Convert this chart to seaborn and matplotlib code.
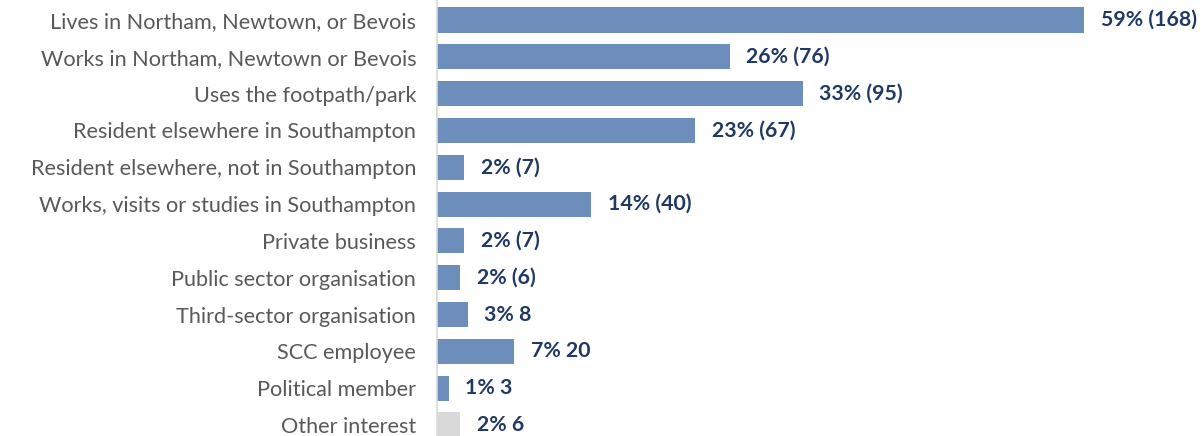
import matplotlib
matplotlib.use("Agg")
import matplotlib.pyplot as plt
import seaborn as sns
import pandas as pd

categories = [
    "Lives in Northam, Newtown, or Bevois",
    "Works in Northam, Newtown or Bevois",
    "Uses the footpath/park",
    "Resident elsewhere in Southampton",
    "Resident elsewhere, not in Southampton",
    "Works, visits or studies in Southampton",
    "Private business",
    "Public sector organisation",
    "Third-sector organisation",
    "SCC employee",
    "Political member",
    "Other interest",
]
counts = [168, 76, 95, 67, 7, 40, 7, 6, 8, 20, 3, 6]
value_labels = [
    "59% (168)", "26% (76)", "33% (95)", "23% (67)", "2% (7)", "14% (40)",
    "2% (7)", "2% (6)", "3% 8", "7% 20", "1% 3", "2% 6",
]
groups = ["main"] * 11 + ["other"]

df = pd.DataFrame({"category": categories, "count": counts, "group": groups})

sns.set_theme(style="white")
plt.rcParams["font.family"] = ["Lato", "DejaVu Sans"]

fig = plt.figure(figsize=(12.01, 4.36), dpi=100)
ax = fig.add_axes([437 / 1201, 0.0, 1 - 437 / 1201, 1.0])

sns.barplot(
    data=df, x="count", y="category", hue="group",
    palette={"main": "#6d8ebb", "other": "#d9d9d9"},
    orient="h", width=0.68, dodge=False, legend=False, saturation=1,
    linewidth=0, ax=ax,
)

ax.set_xlim(0, 198.4)
ax.set_ylim(11.3, -0.543)
ax.set_xlabel("")
ax.set_ylabel("")
ax.set_xticks([])
ax.tick_params(axis="y", length=0, pad=15, labelsize=15.6, labelcolor="#595959")

for s in ["top", "right", "bottom"]:
    ax.spines[s].set_visible(False)
ax.spines["left"].set_color("#d9d9d9")
ax.spines["left"].set_linewidth(1.2)

for i, (c, lab) in enumerate(zip(counts, value_labels)):
    ax.annotate(lab, xy=(c, i), xytext=(12, 0), textcoords="offset points",
                ha="left", va="center", fontsize=15.3, fontweight="bold",
                color="#1f3864")

fig.savefig("out.png", dpi=100)
